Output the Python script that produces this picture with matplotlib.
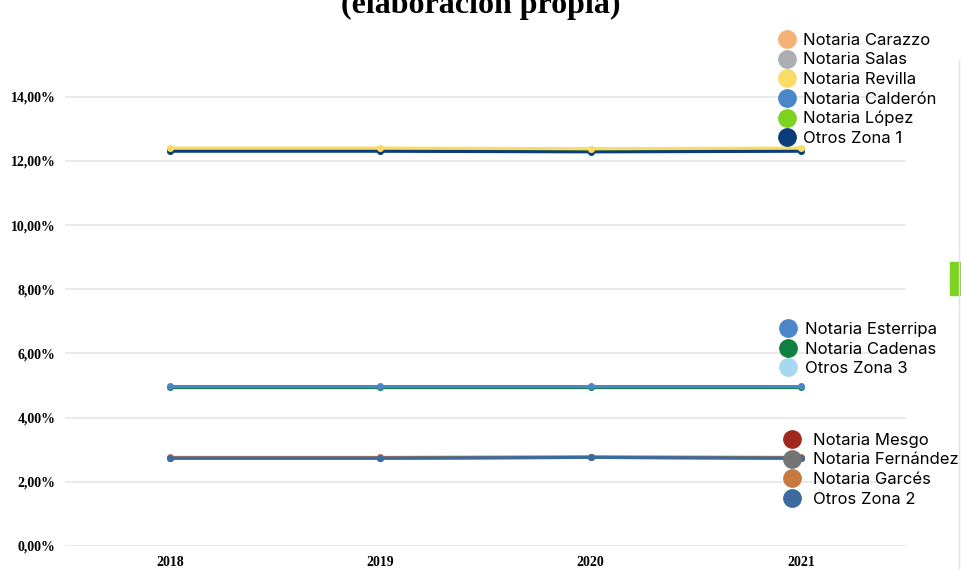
import matplotlib
matplotlib.use("Agg")
import matplotlib.pyplot as plt
from matplotlib.lines import Line2D
from matplotlib.patches import Rectangle

# values (share, %)
years = [2018, 2019, 2020, 2021]
yticks = [0, 2, 4, 6, 8, 10, 12, 14]

zona1_names = ["Notaria Carazzo", "Notaria Salas", "Notaria Revilla",
               "Notaria Calderón", "Notaria López", "Otros Zona 1"]
zona1_colors = ["#F4B274", "#ABAFB3", "#F8DC65", "#4A86C8", "#7ED321", "#0B3D7A"]
carazzo = [12.38, 12.38, 12.36, 12.38]
salas = [12.36, 12.36, 12.34, 12.36]
revilla = [12.40, 12.40, 12.38, 12.40]
calderon = [12.33, 12.33, 12.31, 12.33]
lopez = [12.32, 12.32, 12.30, 12.32]
otros1 = [12.30, 12.30, 12.28, 12.30]

zona3_names = ["Notaria Esterripa", "Notaria Cadenas", "Otros Zona 3"]
zona3_colors = ["#4A86C8", "#0F8040", "#A8D8F0"]
esterripa = [4.98, 4.98, 4.98, 4.98]
cadenas = [4.94, 4.94, 4.94, 4.94]
otros3 = [4.96, 4.96, 4.96, 4.96]

zona2_names = ["Notaria Mesgo", "Notaria Fernández", "Notaria Garcés", "Otros Zona 2"]
zona2_colors = ["#A0281E", "#747474", "#C87A3E", "#3D6A9E"]
mesgo = [2.74, 2.74, 2.76, 2.74]
fernandez = [2.74, 2.74, 2.76, 2.74]
garces = [2.76, 2.76, 2.78, 2.76]
otros2 = [2.74, 2.74, 2.76, 2.74]

W, H = 961, 569
fig = plt.figure(figsize=(W / 100, H / 100), dpi=100)
ax = fig.add_axes([65 / W, 23 / H, 841 / W, (546 - 80) / H])

groups = [
    (zona1_names, zona1_colors, [carazzo, salas, revilla, calderon, lopez, otros1]),
    (zona3_names, zona3_colors, [esterripa, cadenas, otros3]),
    (zona2_names, zona2_colors, [mesgo, fernandez, garces, otros2]),
]
# draw the lower-priority series first so the top one stays visible
draw_order = [
    [0, 1, 3, 4, 5, 2],
    [2, 1, 0],
    [0, 1, 2, 3],
]
for (names, colors, series), order in zip(groups, draw_order):
    for i in order:
        ax.plot(years, series[i], color=colors[i], lw=2.2, marker="o", ms=4, zorder=3)

ax.set_xlim(2017.5, 2021.5)
ax.set_ylim(0, 14.52)
ax.set_yticks(yticks)
ax.set_yticklabels([f"{v:.2f}".replace(".", ",") + "%" for v in yticks])
ax.set_xticks(years)
ax.set_xticklabels([str(y) for y in years])
for lab in ax.get_xticklabels() + ax.get_yticklabels():
    lab.set_fontfamily("Liberation Serif")
    lab.set_fontweight("bold")
    lab.set_fontsize(10)
ax.tick_params(length=0, pad=7)
ax.grid(axis="y", color="#E6E6E6", lw=1.2, zorder=0)
for s in ax.spines.values():
    s.set_visible(False)

# title sits partly above the top edge, as in the source image
fig.text(0.5, 1 - 13 / H, "(elaboración propia)", ha="center", va="baseline",
         fontsize=23, fontweight="bold", family="Liberation Serif")

# three legend blocks on the right
fs = 12
em = fs * 100 / 72
leg_pos = [(778 / W, 1 - 33 / H, 7), (779 / W, 1 - 322 / H, 8), (783 / W, 1 - 433 / H, 12)]
for (names, colors, _), (lx, ly, pad) in zip(groups, leg_pos):
    handles = [Line2D([], [], ls="none", marker="o", ms=12.5, color=c) for c in colors]
    fig.legend(handles, names, loc="upper left", bbox_to_anchor=(lx, ly),
               bbox_transform=fig.transFigure, frameon=False, borderpad=0,
               borderaxespad=0, handlelength=18 / em, handletextpad=pad / em,
               labelspacing=0.27, prop={"family": "Inter", "size": fs})

fig.patches.append(Rectangle((950 / W, 1 - 295 / H), 11 / W, 33 / H,
                             transform=fig.transFigure, color="#7ED321"))
fig.add_artist(Line2D([959 / W, 959 / W], [0, 1 - 60 / H], transform=fig.transFigure,
                      color="#E2E2E2", lw=1))

fig.savefig("out.png", dpi=100)
